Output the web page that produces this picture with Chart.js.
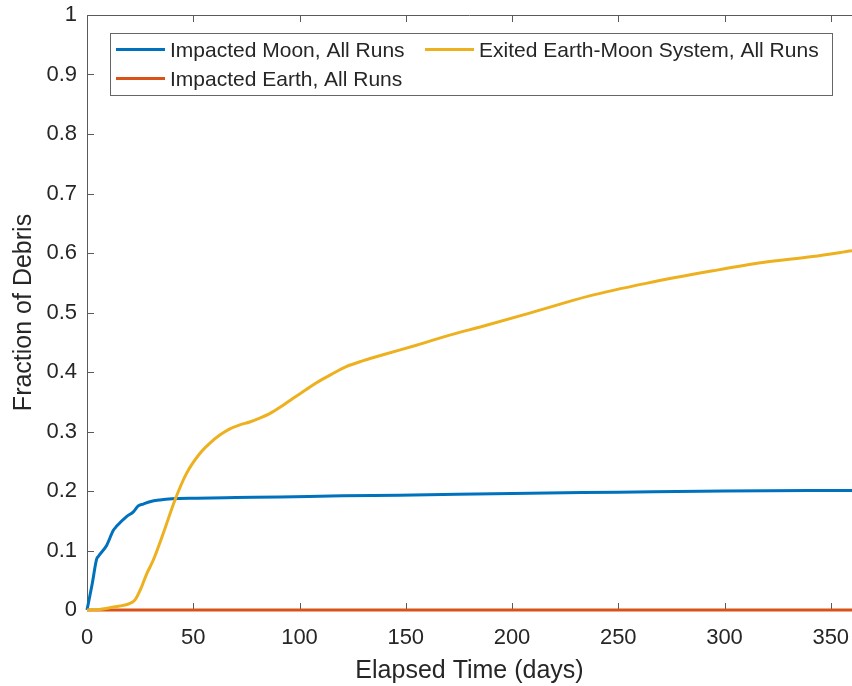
<!DOCTYPE html>
<html>
<head>
<meta charset="utf-8">
<script src="https://cdn.jsdelivr.net/npm/chart.js@4.4.1/dist/chart.umd.min.js"></script>
<style>
  html, body { margin: 0; padding: 0; background: #fff; }
  #wrap { width: 852px; height: 686px; }
</style>
</head>
<body>
<div id="wrap"><canvas id="debris_chart" width="852" height="686"></canvas></div>
<script>
// values (days -> fraction)
var moonDays = [0, 2.5, 4.5, 5.3, 9.3, 12.4, 14, 18.6, 21.8, 24.1, 26.5, 29.6, 34.3, 40, 51.6, 70, 90.7, 120, 147, 200, 250, 300, 360];
var moonFrac = [0, 0.045, 0.085, 0.09, 0.109, 0.134, 0.141, 0.157, 0.165, 0.175, 0.178, 0.182, 0.185, 0.187, 0.188, 0.189, 0.19, 0.192, 0.193, 0.196, 0.198, 0.2, 0.201];

var exitDays = [0, 6, 12.4, 20.2, 22.6, 25.7, 28, 31.2, 35.9, 41.4, 46.9, 53.1, 58, 62.5, 67, 71.9, 76.6, 81, 86, 91, 97, 103, 108, 115, 122, 130, 139.3, 155, 170.7, 186.3, 208.3, 236.5, 263.1, 294.5, 318, 341.5, 360];
var exitFrac = [0, 0.001, 0.005, 0.011, 0.017, 0.039, 0.06, 0.084, 0.129, 0.185, 0.23, 0.263, 0.281, 0.294, 0.304, 0.311, 0.316, 0.322, 0.33, 0.341, 0.356, 0.37, 0.382, 0.396, 0.409, 0.419, 0.429, 0.445, 0.462, 0.477, 0.499, 0.528, 0.549, 0.57, 0.584, 0.594, 0.604];

var earthDays = [0, 360];
var earthFrac = [0, 0];

var xTicks = [0, 50, 100, 150, 200, 250, 300, 350];
var yTicks = [0, 0.1, 0.2, 0.3, 0.4, 0.5, 0.6, 0.7, 0.8, 0.9, 1];

var seriesNames = ['Impacted Moon, All Runs', 'Impacted Earth, All Runs', 'Exited Earth-Moon System, All Runs'];
var seriesColors = ['#0072BD', '#D95319', '#EDB120'];

function toPoints(xs, ys) {
	return xs.map(function(x, i) { return { x: x, y: ys[i] }; });
}

var axisColor = '#5a5a5a';
var textColor = '#262626';
var fontName = '"Liberation Sans", Arial, Helvetica, sans-serif';

// inward ticks + top edge of the box (right edge falls off the picture)
var boxTicks = {
	id: 'boxTicks',
	beforeDatasetsDraw: function(chart) {
		var ctx = chart.ctx, a = chart.chartArea;
		var xs = chart.scales.x, ys = chart.scales.y;
		var len = 7;
		ctx.save();
		ctx.strokeStyle = axisColor;
		ctx.lineWidth = 1;
		ctx.beginPath();
		ctx.moveTo(a.left, a.top + 0.5);
		ctx.lineTo(a.right, a.top + 0.5);
		xTicks.forEach(function(t) {
			var px = Math.round(xs.getPixelForValue(t)) + 0.5;
			ctx.moveTo(px, a.bottom);
			ctx.lineTo(px, a.bottom - len);
			ctx.moveTo(px, a.top);
			ctx.lineTo(px, a.top + len);
		});
		yTicks.forEach(function(t) {
			var py = Math.round(ys.getPixelForValue(t)) + 0.5;
			ctx.moveTo(a.left, py);
			ctx.lineTo(a.left + len, py);
		});
		ctx.stroke();
		ctx.restore();
	}
};

// boxed legend, two columns
var boxLegend = {
	id: 'boxLegend',
	afterDraw: function(chart) {
		var ctx = chart.ctx;
		var items = [
			{ i: 0, lx: 116, ty: 57 },
			{ i: 2, lx: 425, ty: 57 },
			{ i: 1, lx: 116, ty: 86 }
		];
		ctx.save();
		ctx.fillStyle = '#fff';
		ctx.fillRect(110, 33, 722, 62);
		ctx.strokeStyle = '#666';
		ctx.lineWidth = 1;
		ctx.strokeRect(110.5, 33.5, 722, 62);
		ctx.font = '21px ' + fontName;
		ctx.textBaseline = 'alphabetic';
		items.forEach(function(it) {
			var ly = it.ty - 7.5;
			ctx.strokeStyle = seriesColors[it.i];
			ctx.lineWidth = 3;
			ctx.beginPath();
			ctx.moveTo(it.lx, ly);
			ctx.lineTo(it.lx + 49, ly);
			ctx.stroke();
			ctx.fillStyle = textColor;
			ctx.fillText(seriesNames[it.i], it.lx + 54, it.ty);
		});
		ctx.restore();
	}
};

var canvas_debris = document.getElementById('debris_chart').getContext('2d');

window.debris_chart = new Chart(canvas_debris, {
	type: 'line',
	data: {
		datasets: [
			{ label: seriesNames[0], data: toPoints(moonDays, moonFrac), borderColor: seriesColors[0], order: 1, clip: 4 },
			{ label: seriesNames[1], data: toPoints(earthDays, earthFrac), borderColor: seriesColors[1], order: 2, clip: 4 },
			{ label: seriesNames[2], data: toPoints(exitDays, exitFrac), borderColor: seriesColors[2], order: 0, clip: 4 }
		]
	},
	options: {
		responsive: false,
		animation: false,
		parsing: false,
		elements: {
			point: { radius: 0 },
			line: { borderWidth: 3, cubicInterpolationMode: 'monotone', fill: false }
		},
		layout: { padding: { top: 15, right: 0, left: 0, bottom: 0 } },
		plugins: {
			legend: { display: false },
			tooltip: { enabled: false }
		},
		scales: {
			x: {
				type: 'linear',
				min: 0,
				max: 360,
				afterBuildTicks: function(s) { s.ticks = xTicks.map(function(v) { return { value: v }; }); },
				afterFit: function(s) { s.height = 76; s.paddingLeft = 0; s.paddingRight = 0; },
				grid: { display: false, drawTicks: false },
				border: { display: true, color: axisColor, width: 1 },
				ticks: { color: textColor, padding: 15, maxRotation: 0, autoSkip: false, font: { family: fontName, size: 22 } },
				title: { display: true, text: 'Elapsed Time (days)', color: textColor, padding: { top: 0, bottom: 0 }, font: { family: fontName, size: 25 } }
			},
			y: {
				min: 0,
				max: 1,
				afterBuildTicks: function(s) { s.ticks = yTicks.map(function(v) { return { value: v }; }); },
				afterFit: function(s) { s.width = 87; s.paddingTop = 0; s.paddingBottom = 0; },
				grid: { display: false, drawTicks: false },
				border: { display: true, color: axisColor, width: 1 },
				ticks: {
					color: textColor, padding: 10, autoSkip: false, font: { family: fontName, size: 22 },
					callback: function(v) { return String(+v.toFixed(1)); }
				},
				title: { display: true, text: 'Fraction of Debris', color: textColor, padding: { top: 9, bottom: 0 }, font: { family: fontName, size: 25 } }
			}
		}
	},
	plugins: [boxTicks, boxLegend]
});
</script>
</body>
</html>
